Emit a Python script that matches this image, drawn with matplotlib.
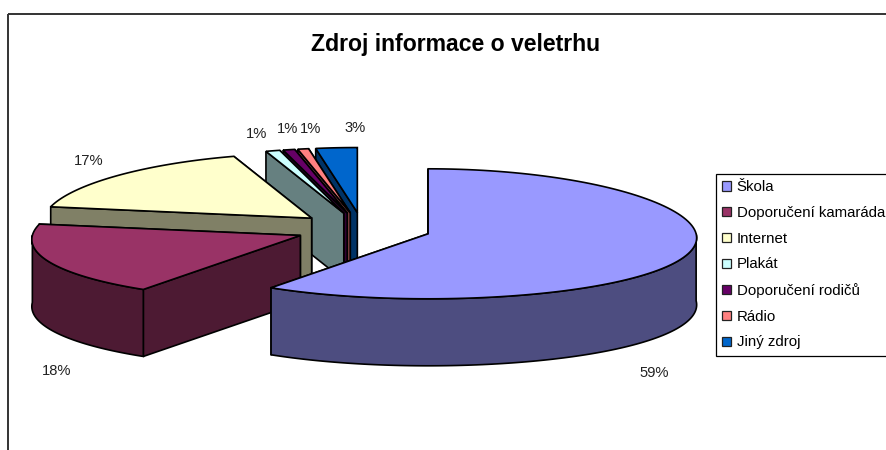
import numpy as np
import matplotlib
matplotlib.use("Agg")
import matplotlib.pyplot as plt
from matplotlib.patches import Polygon, Patch, Rectangle

title = "Zdroj informace o veletrhu"
categories = ["Škola", "Doporučení kamaráda", "Internet", "Plakát",
              "Doporučení rodičů", "Rádio", "Jiný zdroj"]
shares = [59.4, 18.4, 17.2, 0.9, 0.75, 0.7, 2.65]
top_colors = ["#9999FF", "#993366", "#FFFFCC", "#CCFFFF", "#660066", "#FF8080", "#0066CC"]
side_colors = ["#4D4D80", "#4D1A33", "#808066", "#668080", "#330033", "#804040", "#003366"]

# layout (pixels of the 887x450 canvas)
CX, CY = 363, 229
RX, RY = 268, 65
DEPTH = 67
EXPLODE = 0.254
PERSP = 0.063
label_pos = [(654, 373), (57, 371), (89, 161), (257, 134), (288, 129), (311, 129), (355, 128)]

plt.rcParams['font.family'] = ['Liberation Sans', 'DejaVu Sans']
fig = plt.figure(figsize=(8.87, 4.5), dpi=100)
ax = fig.add_axes([0, 0, 1, 1])
ax.set_xlim(0, 887)
ax.set_ylim(450, 0)
ax.axis("off")

ax.add_patch(Rectangle((8.5, 13.5), 900, 460, fill=False, ec="#333333", lw=1.4, zorder=0))


def rim(theta):
    """Point of the pie rim, theta in degrees clockwise from 12 o'clock."""
    t = np.radians(theta)
    x = RX * np.sin(t) * (1 - PERSP * np.cos(t))
    y = -RY * np.cos(t)
    return np.column_stack([np.atleast_1d(x), np.atleast_1d(y)])


bounds = np.concatenate([[0], np.cumsum(shares)]) / sum(shares) * 360
lw = 1.2
z = 1
for i in range(len(shares) - 1, -1, -1):
    a0, a1 = bounds[i], bounds[i + 1]
    mid = (a0 + a1) / 2
    apex = np.array([CX, CY]) + EXPLODE * np.array(
        [RX * np.sin(np.radians(mid)), -RY * np.cos(np.radians(mid))])
    down = np.array([0, DEPTH])
    for ang in (a1, a0):
        p = apex + rim(ang)[0]
        ax.add_patch(Polygon([apex, p, p + down, apex + down], closed=True,
                             fc=side_colors[i], ec="black", lw=lw, zorder=z))
        z += 1
    lo, hi = max(a0, 90), min(a1, 270)
    if hi > lo:
        arc = apex + rim(np.linspace(lo, hi, 120))
        ax.add_patch(Polygon(np.vstack([arc, (arc + down)[::-1]]), closed=True,
                             fc=side_colors[i], ec="black", lw=lw, zorder=z))
        z += 1
    arc = apex + rim(np.linspace(a0, a1, 120))
    ax.add_patch(Polygon(np.vstack([apex, arc]), closed=True,
                         fc=top_colors[i], ec="black", lw=lw, zorder=z))
    z += 1

for s, (x, y) in zip(shares, label_pos):
    ax.text(x, y, f"{s:.0f}%", ha="center", va="center", fontsize=10.6, color="#222222", zorder=50)

ax.text(456, 44, title, ha="center", va="center", fontsize=16.6, fontweight="bold", zorder=50)

handles = [Patch(fc=c, ec="#222222", lw=0.9) for c in top_colors]
leg = ax.legend(handles, categories, loc="upper left", bbox_to_anchor=(716 / 887, 1 - 174 / 450),
                bbox_transform=ax.transAxes, fontsize=10.8, frameon=True, fancybox=False,
                edgecolor="black", framealpha=1, handlelength=0.55, handleheight=0.55,
                handletextpad=0.4, labelspacing=0.78, borderpad=0.42, borderaxespad=0)
leg.get_frame().set_linewidth(0.9)
leg.set_zorder(60)

fig.savefig("out.png", dpi=100)
